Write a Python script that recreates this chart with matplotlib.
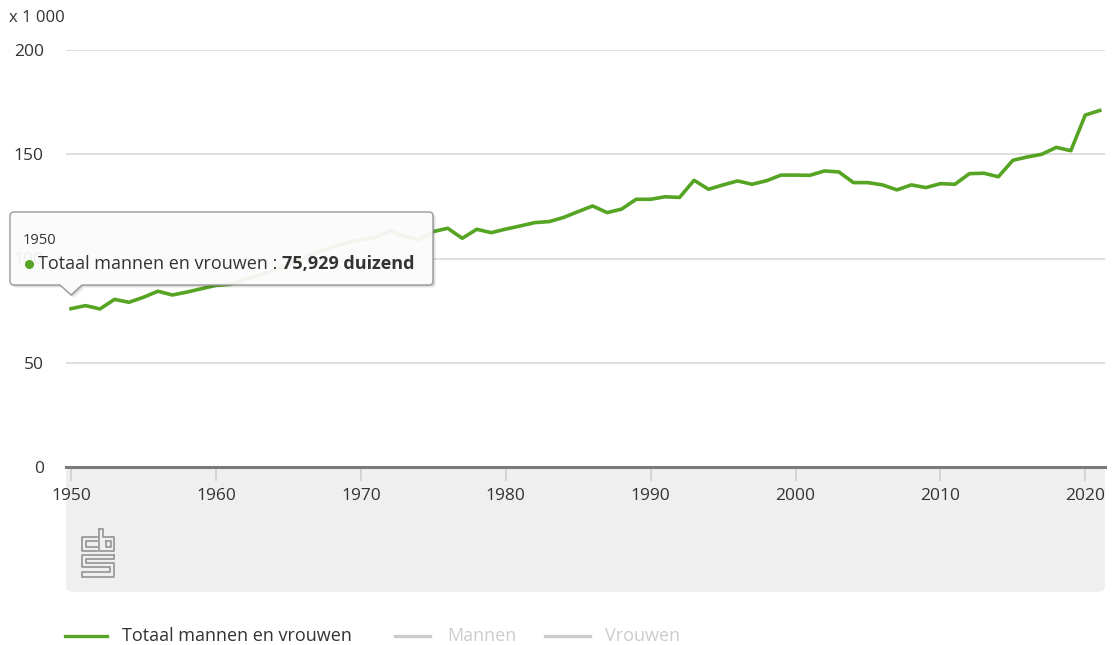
import matplotlib
matplotlib.use("Agg")
import matplotlib.pyplot as plt
from matplotlib.patches import FancyBboxPatch, PathPatch
from matplotlib.path import Path
from matplotlib.lines import Line2D

W, H = 1115, 645
FONT = "Open Sans"
GREEN = "#56a423"
TEXT = "#333333"
LIGHT = "#cccccc"

years = list(range(1950, 2022))
totaal = [
    75.929, 77.4, 75.8, 80.4, 79.0, 81.4, 84.3, 82.5, 83.9, 85.5,
    87.1, 87.6, 90.0, 92.0, 94.5, 97.0, 100.0, 103.0, 105.5, 107.5,
    109.0, 110.0, 113.3, 110.5, 108.9, 112.9, 114.5, 109.7, 114.0, 112.4,
    114.1, 115.6, 117.2, 117.7, 119.7, 122.5, 125.2, 122.0, 123.7, 128.4,
    128.4, 129.6, 129.3, 137.5, 133.2, 135.3, 137.2, 135.6, 137.3, 140.0,
    140.0, 139.9, 142.0, 141.5, 136.4, 136.4, 135.3, 132.9, 135.3, 134.0,
    135.9, 135.6, 140.7, 140.9, 139.2, 147.1, 148.7, 150.0, 153.3, 151.7,
    168.8, 171.0,
]
yticks = [0, 50, 100, 150, 200]
xticks = [1950, 1960, 1970, 1980, 1990, 2000, 2010, 2020]
series_names = ["Totaal mannen en vrouwen", "Mannen", "Vrouwen"]
tip_year = "1950"
tip_value = "75,929 duizend"


def fx(px):
    return px / W


def fy(py):
    return 1 - py / H


fig = plt.figure(figsize=(W / 100, H / 100), dpi=100)
fig.patch.set_facecolor("white")

# grey panel under the x axis
panel = FancyBboxPatch((fx(66), fy(592)), fx(1105) - fx(66), fy(467) - fy(592),
                       boxstyle="round,pad=0,rounding_size=0.008",
                       transform=fig.transFigure, facecolor="#efefef",
                       edgecolor="none", zorder=-5)
fig.patches.append(panel)

ax = fig.add_axes([fx(66), fy(467), fx(1105) - fx(66), fy(50) - fy(467)])
ax.set_zorder(1)
ax.set_facecolor("none")
x0 = 1950 - 5 / 14.49
x1 = 1950 + (1105 - 71) / 14.49
ax.set_xlim(x0, x1)
ax.set_ylim(0, 200)
for s in ax.spines.values():
    s.set_visible(False)
ax.set_yticks(yticks)
ax.set_yticklabels([str(v) for v in yticks], fontsize=12.5, color=TEXT, family=FONT)
ax.tick_params(axis="y", length=0, pad=16)
ax.set_xticks(xticks)
ax.set_xticklabels([str(v) for v in xticks], fontsize=12.5, color=TEXT, family=FONT)
ax.tick_params(axis="x", length=10, width=1.3, color="#d0d0d0", pad=5)
for v in yticks[1:]:
    ax.axhline(v, color="#d6d6d6", lw=1.1, zorder=1)
ax.axhline(0, color="#7a7a7a", lw=2.2, zorder=2, clip_on=False)

ax.plot(years, totaal, color=GREEN, lw=2.6, zorder=3, solid_joinstyle="round")

fig.text(fx(9), fy(18), "x 1 000", fontsize=12, color=TEXT, family=FONT,
         ha="left", va="center")

# tooltip box with pointer
L, T, R, B, r = 10, 212, 433, 285, 4
px, pw, ph = 71, 11, 10
pts = [
    (L + r, T), (R - r, T), (R, T), (R, T + r), (R, B - r), (R, B), (R - r, B),
    (px + pw, B), (px, B + ph), (px - pw, B), (L + r, B), (L, B), (L, B - r),
    (L, T + r), (L, T), (L + r, T),
]
codes = [Path.MOVETO, Path.LINETO, Path.CURVE3, Path.CURVE3, Path.LINETO,
         Path.CURVE3, Path.CURVE3, Path.LINETO, Path.LINETO, Path.LINETO,
         Path.LINETO, Path.CURVE3, Path.CURVE3, Path.LINETO, Path.CURVE3,
         Path.CURVE3]
for off, a in [(3, 0.05), (2, 0.07), (1, 0.09)]:
    sh = Path([(fx(x + off), fy(y + off)) for x, y in pts], codes)
    fig.patches.append(PathPatch(sh, transform=fig.transFigure, facecolor="black",
                                 edgecolor="none", alpha=a, zorder=5))
tip = Path([(fx(x), fy(y)) for x, y in pts], codes)
fig.patches.append(PathPatch(tip, transform=fig.transFigure, facecolor="white",
                             edgecolor="#9a9a9a", lw=1.1, alpha=0.93, zorder=6))

fig.text(fx(23), fy(240), tip_year, fontsize=10.5, color=TEXT, family=FONT,
         ha="left", va="center", zorder=7)
fig.add_artist(Line2D([fx(29)], [fy(264)], transform=fig.transFigure, marker="o",
                      markersize=5.5, color=GREEN, linestyle="none", zorder=7))
t1 = fig.text(fx(38), fy(264), series_names[0] + " : ", fontsize=13, color=TEXT,
              family=FONT, ha="left", va="center", zorder=7)
fig.canvas.draw()
bb = t1.get_window_extent()
fig.text(bb.x1 / W, fy(264), tip_value, fontsize=13, color=TEXT, family=FONT,
         fontweight="bold", ha="left", va="center", zorder=7)

# cbs logo (simplified outline)
LX, LY = 82, 529
logo = [
    [(15, 8), (0, 8), (0, 22), (15, 22)],
    [(15, 12), (4, 12), (4, 18), (15, 18)],
    [(17, 0), (17, 22), (32, 22), (32, 8), (21, 8), (21, 0), (17, 0)],
    [(24, 12), (29, 12), (29, 18), (24, 18), (24, 12)],
    [(32, 26), (0, 26), (0, 38), (28, 38), (28, 43), (0, 43), (0, 48), (32, 48),
     (32, 34), (4, 34), (4, 30), (32, 30), (32, 26)],
]
for seg in logo:
    fig.add_artist(Line2D([fx(LX + x) for x, _ in seg], [fy(LY + y) for _, y in seg],
                          transform=fig.transFigure, color="#9a9a9a", lw=1.3))

# legend
leg = [(65, 107, 122, GREEN, TEXT), (395, 430, 447, LIGHT, LIGHT),
       (545, 590, 605, LIGHT, LIGHT)]
for (a, b, tx, lc, tc), name in zip(leg, series_names):
    fig.add_artist(Line2D([fx(a), fx(b)], [fy(636), fy(636)], transform=fig.transFigure,
                          color=lc, lw=2.4))
    fig.text(fx(tx), fy(636), name, fontsize=13, color=tc, family=FONT,
             ha="left", va="center")

fig.savefig("out.png", dpi=100)
